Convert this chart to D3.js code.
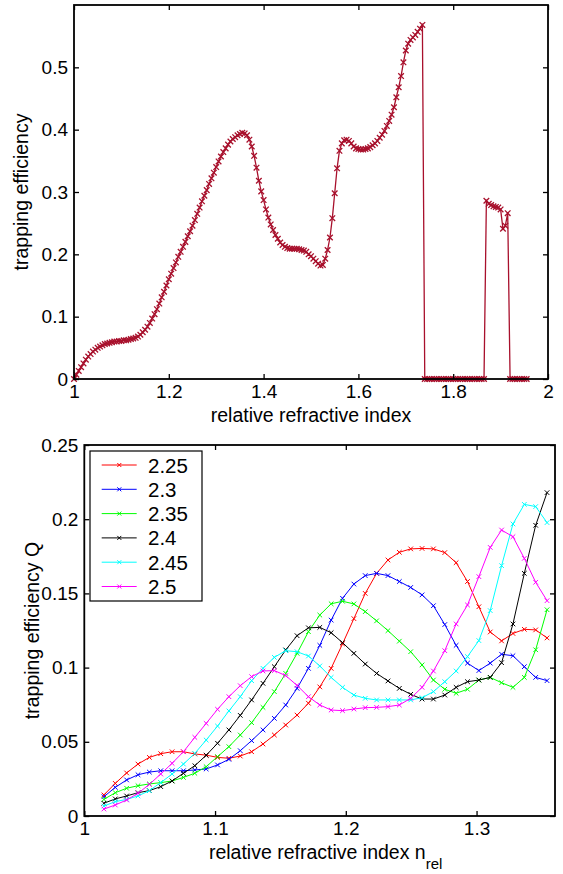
<!DOCTYPE html>
<html>
<head>
<meta charset="utf-8">
<script src="https://cdn.jsdelivr.net/npm/d3@7"></script>
<style>
  body { margin: 0; background: #fff; }
  svg text { font-family: "Liberation Sans", Arial, Helvetica, sans-serif; }
</style>
</head>
<body>
<div id="chart"></div>
<script>
// ---- top panel data: trapping efficiency vs relative refractive index (step 0.005)
const topIndex = d3.range(192).map(i => +(1 + i * 0.005).toFixed(3));
const topEfficiency = [
  0.000,0.007,0.013,0.019,0.025,0.031,0.036,0.040,0.044,0.047,
  0.050,0.052,0.054,0.056,0.057,0.058,0.059,0.060,0.060,0.061,
  0.061,0.062,0.062,0.063,0.064,0.065,0.066,0.068,0.071,0.075,
  0.079,0.084,0.090,0.097,0.104,0.112,0.121,0.131,0.140,0.150,
  0.160,0.169,0.178,0.187,0.196,0.204,0.212,0.220,0.229,0.237,
  0.246,0.255,0.265,0.275,0.285,0.294,0.303,0.313,0.322,0.331,
  0.340,0.349,0.357,0.364,0.370,0.376,0.381,0.385,0.388,0.391,
  0.393,0.395,0.394,0.391,0.384,0.373,0.358,0.339,0.318,0.301,
  0.287,0.272,0.259,0.248,0.239,0.231,0.225,0.219,0.215,0.212,
  0.210,0.209,0.209,0.209,0.209,0.208,0.207,0.206,0.204,0.200,
  0.197,0.193,0.189,0.185,0.182,0.183,0.193,0.207,0.227,0.258,
  0.298,0.338,0.366,0.378,0.383,0.384,0.382,0.378,0.373,0.370,
  0.369,0.368,0.368,0.369,0.370,0.372,0.375,0.378,0.382,0.387,
  0.392,0.398,0.406,0.414,0.424,0.436,0.452,0.468,0.486,0.508,
  0.527,0.538,0.544,0.548,0.552,0.557,0.562,0.568,
  0,0,0,0,0,0,0,0,0,0,0,0,0,0,0,0,0,0,0,0,0,0,0,0,0,0,
  0.286,0.281,0.279,0.277,0.276,0.275,0.272,0.241,0.246,0.266,
  0,0,0,0,0,0,0,0
];
const topXTicks = [1, 1.2, 1.4, 1.6, 1.8, 2];
const topYTicks = [0, 0.1, 0.2, 0.3, 0.4, 0.5];

// ---- bottom panel data: six series, 40 points each
const botIndex = d3.range(40).map(i => 1.015 + i * 0.00869);
const seriesNames = ["2.25", "2.3", "2.35", "2.4", "2.45", "2.5"];
const seriesColors = ["#ff0000", "#0000ff", "#00ff00", "#000000", "#00ffff", "#ff00ff"];
const q225 = [0.0142,0.022,0.029,0.035,0.0395,0.042,0.0433,0.0433,0.0418,0.041,
  0.0395,0.0389,0.0404,0.0433,0.0485,0.0546,0.0613,0.068,0.076,0.087,
  0.0995,0.116,0.133,0.150,0.1635,0.1725,0.1777,0.180,0.1803,0.180,
  0.1775,0.1707,0.158,0.141,0.124,0.118,0.123,0.1258,0.1254,0.120];
const q230 = [0.013,0.0193,0.0243,0.0278,0.0296,0.0305,0.0305,0.0305,0.031,0.0317,
  0.0344,0.0382,0.044,0.0508,0.058,0.0658,0.0748,0.086,0.0995,0.115,
  0.132,0.1467,0.1563,0.162,0.1635,0.162,0.158,0.154,0.149,0.1417,
  0.129,0.115,0.103,0.098,0.103,0.109,0.108,0.1006,0.0934,0.0912];
const q235 = [0.0112,0.0157,0.0187,0.0204,0.0216,0.0225,0.0236,0.026,0.0288,0.0332,
  0.040,0.0467,0.0546,0.0629,0.0732,0.0838,0.0961,0.1096,0.1242,0.1354,
  0.143,0.1447,0.1429,0.1377,0.1315,0.1249,0.1178,0.1107,0.1018,0.0916,
  0.0854,0.0827,0.0854,0.0916,0.0934,0.0898,0.0867,0.0934,0.112,0.139];
const q240 = [0.0086,0.0115,0.0135,0.0157,0.0171,0.0198,0.0236,0.0288,0.0339,0.0409,
  0.049,0.058,0.0678,0.0782,0.0894,0.1006,0.1119,0.1215,0.1268,0.1271,
  0.1235,0.1168,0.1096,0.1024,0.0961,0.091,0.086,0.082,0.0788,0.0788,
  0.0815,0.0867,0.0905,0.0916,0.0934,0.1033,0.1294,0.1635,0.1959,0.2179];
const q245 = [0.0067,0.0097,0.0112,0.0135,0.0171,0.0225,0.0283,0.035,0.0422,0.0512,
  0.0606,0.0708,0.0804,0.0912,0.0995,0.1069,0.1114,0.1107,0.1078,0.1011,
  0.0934,0.0867,0.0815,0.0793,0.0782,0.0782,0.0782,0.0782,0.0797,0.0838,
  0.0905,0.0977,0.1074,0.1182,0.1384,0.1687,0.1968,0.210,0.2085,0.1977];
const q250 = [0.0047,0.0074,0.0108,0.0153,0.0213,0.0283,0.0355,0.0433,0.053,0.0624,
  0.0719,0.0804,0.0878,0.0939,0.0977,0.098,0.0946,0.088,0.0804,0.0748,
  0.0714,0.071,0.0721,0.073,0.0732,0.0737,0.0748,0.0793,0.0867,0.0977,
  0.1114,0.1294,0.1422,0.1613,0.181,0.1927,0.1882,0.1736,0.1575,0.1451];
const botSeries = [q225, q230, q235, q240, q245, q250];
const botXTicks = [1, 1.1, 1.2, 1.3];
const botYTicks = [0, 0.05, 0.1, 0.15, 0.2, 0.25];

const W = 563, H = 874;
const svg = d3.select("#chart").append("svg")
  .attr("width", W).attr("height", H);

// draws an 'x' marker path centred at 0,0
const xMark = s => `M${-s},${-s}L${s},${s}M${-s},${s}L${s},${-s}`;

// generic MATLAB-like box with inward ticks on all sides
function drawAxes(g, x, y, w, h, xTicks, yTicks, fmtX, fmtY) {
  const fs = "19px";
  const xb = g.append("g").attr("transform", `translate(0,${h})`)
    .call(d3.axisBottom(x).tickValues(xTicks).tickSize(-5).tickPadding(6).tickFormat(fmtX));
  const xt = g.append("g")
    .call(d3.axisTop(x).tickValues(xTicks).tickSize(-5).tickFormat(""));
  const yl = g.append("g")
    .call(d3.axisLeft(y).tickValues(yTicks).tickSize(-5).tickPadding(6).tickFormat(fmtY));
  const yr = g.append("g").attr("transform", `translate(${w},0)`)
    .call(d3.axisRight(y).tickValues(yTicks).tickSize(-5).tickFormat(""));
  [xb, xt, yl, yr].forEach(a => {
    a.select(".domain").remove();
    a.selectAll("line").attr("stroke", "#000").attr("stroke-width", 1.3);
    a.selectAll("text").style("font-size", fs).attr("fill", "#000")
      .style("font-family", '"Liberation Sans", Arial, sans-serif');
  });
  g.append("rect")
    .attr("width", w).attr("height", h)
    .attr("fill", "none").attr("stroke", "#000").attr("stroke-width", 1.8);
}

// ---------------- top panel
const m1 = {left: 74, top: 5}, w1 = 474, h1 = 374;
const g1 = svg.append("g").attr("transform", `translate(${m1.left},${m1.top})`);
const x1 = d3.scaleLinear().domain([1, 2]).range([0, w1]);
const y1 = d3.scaleLinear().domain([0, 0.6]).range([h1, 0]);
const topColor = "#a8102c";

g1.append("path")
  .datum(topIndex.map((n, i) => [n, topEfficiency[i]]))
  .attr("fill", "none").attr("stroke", topColor).attr("stroke-width", 1.3)
  .attr("d", d3.line().x(d => x1(d[0])).y(d => y1(d[1])));
g1.selectAll("path.mk").data(topIndex.map((n, i) => [n, topEfficiency[i]]))
  .join("path").attr("class", "mk")
  .attr("transform", d => `translate(${x1(d[0])},${y1(d[1])})`)
  .attr("d", xMark(2.8))
  .attr("stroke", topColor).attr("stroke-width", 1.3).attr("fill", "none");

drawAxes(g1, x1, y1, w1, h1, topXTicks, topYTicks, d3.format("~g"), d3.format("~g"));

svg.append("text")
  .attr("x", m1.left + w1 / 2).attr("y", 422)
  .attr("text-anchor", "middle").style("font-size", "19.5px")
  .text("relative refractive index");
svg.append("text")
  .attr("transform", `translate(28,${m1.top + h1 / 2}) rotate(-90)`)
  .attr("text-anchor", "middle").style("font-size", "19.5px")
  .text("trapping efficiency");

// ---------------- bottom panel
const m2 = {left: 84.3, top: 445}, w2 = 470.7, h2 = 371;
const g2 = svg.append("g").attr("transform", `translate(${m2.left},${m2.top})`);
const x2 = d3.scaleLinear().domain([1, 1.36]).range([0, w2]);
const y2 = d3.scaleLinear().domain([0, 0.25]).range([h2, 0]);
const line2 = d3.line().x(d => x2(d[0])).y(d => y2(d[1]));

botSeries.forEach((vals, k) => {
  const pts = botIndex.map((n, i) => [n, vals[i]]);
  const sg = g2.append("g");
  sg.append("path").datum(pts)
    .attr("fill", "none").attr("stroke", seriesColors[k]).attr("stroke-width", 1)
    .attr("d", line2);
  sg.selectAll("path.mk").data(pts).join("path").attr("class", "mk")
    .attr("transform", d => `translate(${x2(d[0])},${y2(d[1])})`)
    .attr("d", xMark(2.3))
    .attr("stroke", seriesColors[k]).attr("stroke-width", 1).attr("fill", "none");
});

drawAxes(g2, x2, y2, w2, h2, botXTicks, botYTicks, d3.format("~g"), d3.format("~g"));

// legend
const leg = svg.append("g").attr("transform", "translate(90,451)");
leg.append("rect").attr("width", 112).attr("height", 150)
  .attr("fill", "#fff").attr("stroke", "#000").attr("stroke-width", 1.2);
const rows = leg.selectAll("g.row").data(seriesNames).join("g").attr("class", "row")
  .attr("transform", (d, i) => `translate(0,${14 + i * 24.3})`);
rows.append("line").attr("x1", 11.7).attr("x2", 46.7)
  .attr("stroke", (d, i) => seriesColors[i]).attr("stroke-width", 1);
rows.append("path").attr("transform", "translate(29.3,0)").attr("d", xMark(2))
  .attr("stroke", (d, i) => seriesColors[i]).attr("stroke-width", 1).attr("fill", "none");
rows.append("text").attr("x", 58).attr("y", 7.5)
  .style("font-size", "20.5px").text(d => d);

// x label with subscript
const xl2 = svg.append("text")
  .attr("x", m2.left + w2 / 2 + 6).attr("y", 859)
  .attr("text-anchor", "middle").style("font-size", "19.5px");
xl2.append("tspan").text("relative refractive index n");
xl2.append("tspan").attr("dy", 10).style("font-size", "15px").text("rel");

svg.append("text")
  .attr("transform", `translate(39,${m2.top + h2 / 2}) rotate(-90)`)
  .attr("text-anchor", "middle").style("font-size", "19.5px")
  .text("trapping efficiency Q");
</script>
</body>
</html>
